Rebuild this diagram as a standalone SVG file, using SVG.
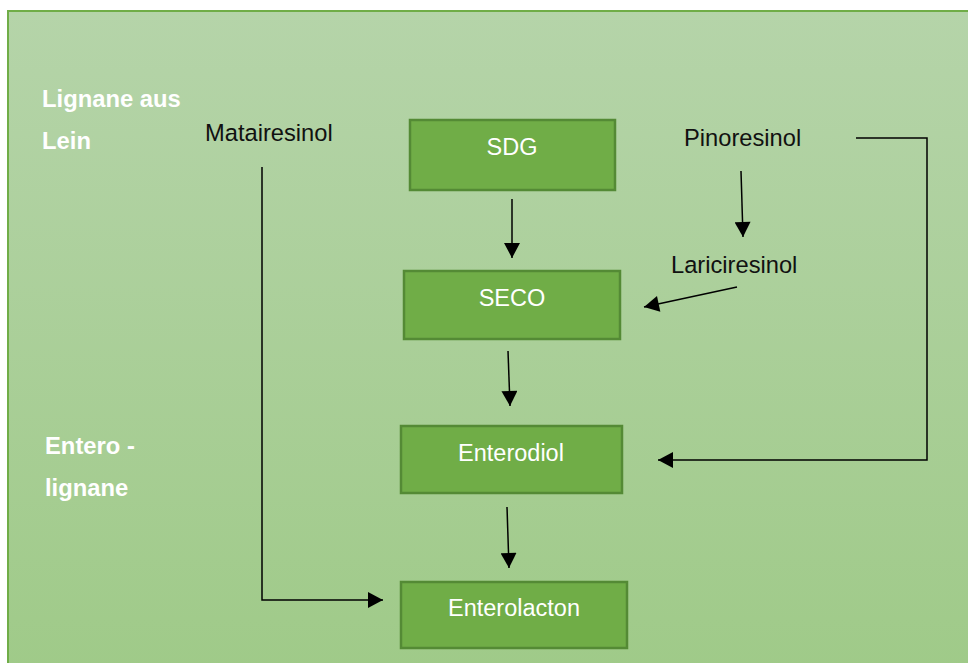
<svg xmlns="http://www.w3.org/2000/svg" width="968" height="663" viewBox="0 0 968 663">
<defs>
<linearGradient id="bg" x1="0" y1="0" x2="0" y2="1">
<stop offset="0" stop-color="#B5D4A9"/>
<stop offset="1" stop-color="#9FCA88"/>
</linearGradient>
<marker id="ah" markerUnits="userSpaceOnUse" markerWidth="16" markerHeight="16" viewBox="0 0 15 16" refX="15" refY="8" orient="auto">
<path d="M0,0 L15,8 L0,16 z" fill="#000"/>
</marker>
<style>
.box{fill:#70AD47;stroke:#548A35;stroke-width:2.5}
.lbl{font-family:"Liberation Sans",Arial,sans-serif;font-size:23.5px;fill:#fff;text-anchor:middle}
.dk{font-family:"Liberation Sans",Arial,sans-serif;font-size:23.7px;fill:#111}
.side{font-family:"Liberation Sans",Arial,sans-serif;font-size:23.8px;font-weight:bold;fill:#fff}
.con{fill:none;stroke:#000;stroke-width:1.5}
</style>
</defs>
<rect x="0" y="0" width="968" height="663" fill="#fff"/>
<rect x="8" y="11" width="975" height="670" fill="url(#bg)" stroke="#70AD47" stroke-width="2"/>
<g id="side-labels">
<text class="side" x="42" y="107">Lignane aus</text>
<text class="side" x="42" y="149">Lein</text>
<text class="side" x="45" y="454">Entero -</text>
<text class="side" x="45" y="496">lignane</text>
</g>
<g id="matairesinol"><text class="dk" x="205" y="141">Matairesinol</text></g>
<g id="pinoresinol"><text class="dk" x="684" y="146">Pinoresinol</text></g>
<g id="lariciresinol"><text class="dk" x="671" y="273">Lariciresinol</text></g>
<g id="sdg"><rect class="box" x="410" y="120" width="205" height="70"/><text class="lbl" x="512" y="155">SDG</text></g>
<g id="seco"><rect class="box" x="404" y="271" width="216" height="68"/><text class="lbl" x="512" y="306">SECO</text></g>
<g id="enterodiol"><rect class="box" x="401" y="426" width="221" height="67"/><text class="lbl" x="511" y="461">Enterodiol</text></g>
<g id="enterolacton"><rect class="box" x="401" y="582" width="226" height="66"/><text class="lbl" x="514" y="616">Enterolacton</text></g>
<g id="connectors">
<line class="con" x1="512" y1="199" x2="512" y2="258" marker-end="url(#ah)"/>
<line class="con" x1="508" y1="351" x2="510" y2="406" marker-end="url(#ah)"/>
<line class="con" x1="507" y1="507" x2="509" y2="568" marker-end="url(#ah)"/>
<line class="con" x1="741" y1="171" x2="743" y2="237" marker-end="url(#ah)"/>
<line class="con" x1="737" y1="287" x2="644" y2="307" marker-end="url(#ah)"/>
<polyline class="con" points="856,138 927,138 927,460 658,460" marker-end="url(#ah)"/>
<polyline class="con" points="262,167 262,600 383,600" marker-end="url(#ah)"/>
</g>
</svg>
